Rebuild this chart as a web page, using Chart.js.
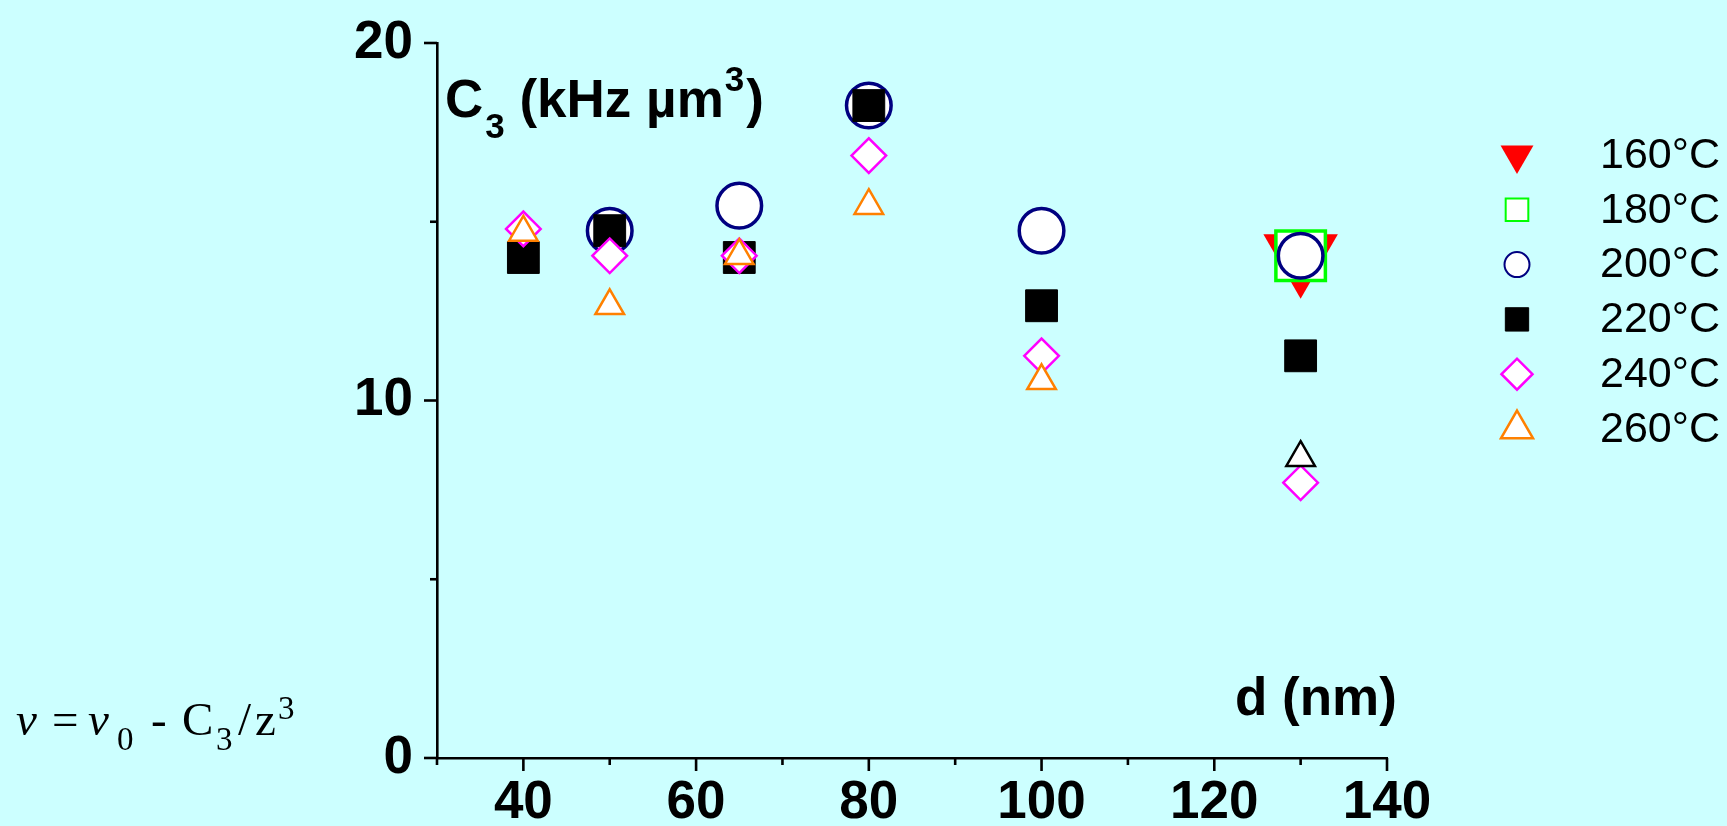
<!DOCTYPE html>
<html lang="en">
<head>
  <meta charset="UTF-8">
  <title>C3 vs d</title>
  <script src="https://cdn.jsdelivr.net/npm/chart.js"></script>
  <style>
    body {
      margin: 0;
      padding: 0;
      background: #ccffff;
    }
    #wrap {
      width: 1727px;
      height: 826px;
    }
  </style>
</head>
<body>
  <div id="wrap">
    <canvas id="c3Chart" width="1727" height="826"></canvas>
  </div>

  <script>
    // film thickness d (nm)
    const distances = [40, 50, 65, 80, 100, 130];
    const temperatures = ['160°C', '180°C', '200°C', '220°C', '240°C', '260°C'];

    // C3 (kHz um^3) per annealing temperature, null = not measured
    const c3_160 = [null, null, null, null, null, 14.05];
    const c3_180 = [null, null, null, null, null, 14.05];
    const c3_200 = [null, 14.75, 15.45, 18.25, 14.75, 14.05];
    const c3_220 = [14.0, 14.75, 14.0, 18.25, 12.65, 11.25];
    const c3_240 = [14.8, 14.05, 14.05, 16.85, 11.25, 7.7];
    const c3_260 = [14.7, 12.65, 14.05, 15.45, 10.55, 8.4];

    const yTickLabels = [0, 10, 20];
    const xTickLabels = [40, 60, 80, 100, 120, 140];

    const SANS = "'Liberation Sans', Arial, sans-serif";
    const SERIF = "'Liberation Serif', 'Times New Roman', serif";

    const toPoints = ys => distances
      .map((x, i) => ({ x: x, y: ys[i] }))
      .filter(p => p.y !== null);

    const datasets = [
      {
        label: temperatures[0], data: toPoints(c3_160), order: 5,
        pointStyle: 'triangle', pointRotation: 180, pointRadius: 43,
        backgroundColor: '#ff0000', borderColor: '#ff0000', borderWidth: 0,
        legendRadius: 19, legendBorder: 0
      },
      {
        label: temperatures[1], data: toPoints(c3_180), order: 4,
        pointStyle: 'rect', pointRadius: 35,
        backgroundColor: '#ffffff', borderColor: '#00ff00', borderWidth: 3.5,
        legendRadius: 16, legendBorder: 2
      },
      {
        label: temperatures[2], data: toPoints(c3_200), order: 3,
        pointStyle: 'circle', pointRadius: 22.3,
        backgroundColor: '#ffffff', borderColor: '#000080', borderWidth: 3.5,
        legendRadius: 12.5, legendBorder: 2
      },
      {
        label: temperatures[3], data: toPoints(c3_220), order: 2,
        pointStyle: 'rect', pointRadius: 22.5,
        backgroundColor: '#000000', borderColor: '#000000', borderWidth: 1,
        legendRadius: 16.5, legendBorder: 1
      },
      {
        label: temperatures[4], data: toPoints(c3_240), order: 1,
        pointStyle: 'rectRot', pointRadius: 17.3,
        backgroundColor: '#ffffff', borderColor: '#ff00ff', borderWidth: 2.5,
        legendRadius: 15.5, legendBorder: 2.5
      },
      {
        label: temperatures[5], data: toPoints(c3_260), order: 0,
        pointStyle: 'triangle', pointRadius: 16.5,
        backgroundColor: '#ffffff', borderColor: '#ff8000',
        pointBorderColor: ['#ff8000', '#ff8000', '#ff8000', '#ff8000', '#ff8000', '#000000'],
        borderWidth: 2.5,
        legendRadius: 18.5, legendBorder: 2.5
      }
    ];

    // outward tick marks, long on labelled values
    function drawTicks(ctx, scale, area, horizontal) {
      ctx.save();
      ctx.strokeStyle = '#000';
      ctx.lineWidth = 2.6;
      scale.ticks.forEach(t => {
        const len = t.label !== '' ? 13 : 7;
        const p = scale.getPixelForValue(t.value);
        ctx.beginPath();
        if (horizontal) {
          ctx.moveTo(p, area.bottom);
          ctx.lineTo(p, area.bottom + len);
        } else {
          ctx.moveTo(area.left, p);
          ctx.lineTo(area.left - len, p);
        }
        ctx.stroke();
      });
      ctx.restore();
    }

    // text pieces: [text, font, x, y]
    function drawPieces(ctx, pieces) {
      pieces.forEach(([text, font, x, y]) => {
        ctx.font = font;
        ctx.fillText(text, x, y);
      });
    }

    const decorations = {
      id: 'decorations',
      afterDraw(chart) {
        const ctx = chart.ctx;
        const area = chart.chartArea;
        drawTicks(ctx, chart.scales.x, area, true);
        drawTicks(ctx, chart.scales.y, area, false);

        ctx.save();
        ctx.fillStyle = '#000';
        ctx.textAlign = 'left';
        ctx.textBaseline = 'alphabetic';

        // axis titles inside the plot
        const big = 'bold 53px ' + SANS;
        const small = 'bold 35px ' + SANS;
        ctx.font = big;
        let x = 445;
        ctx.fillText('C', x, 117);
        x += ctx.measureText('C').width + 2;
        ctx.font = small;
        ctx.fillText('3', x, 138);
        x += ctx.measureText('3').width;
        ctx.font = big;
        ctx.fillText(' (kHz \u00b5m', x, 117);
        x += ctx.measureText(' (kHz \u00b5m').width + 1;
        ctx.font = small;
        ctx.fillText('3', x, 91);
        x += ctx.measureText('3').width + 2;
        ctx.font = big;
        ctx.fillText(')', x, 117);

        ctx.fillText('d (nm)', 1235, 715);

        // resonance shift formula
        const f = '47px ' + SERIF;
        const fi = 'italic 47px ' + SERIF;
        const fs = '33px ' + SERIF;
        drawPieces(ctx, [
          ['\u03bd', fi, 16, 735],
          ['=', f, 52, 735],
          ['\u03bd', fi, 88, 735],
          ['0', fs, 117, 750],
          ['-', f, 151, 735],
          ['C', f, 182, 735],
          ['3', fs, 216, 750],
          ['/', f, 238, 735],
          ['z', f, 255, 735],
          ['3', fs, 278, 719]
        ]);

        // legend
        chart.data.datasets.forEach((ds, i) => {
          const y = 155 + i * 54.8;
          ctx.fillStyle = ds.backgroundColor;
          ctx.strokeStyle = ds.borderColor;
          ctx.lineWidth = ds.legendBorder;
          Chart.helpers.drawPoint(ctx, {
            pointStyle: ds.pointStyle,
            rotation: ds.pointRotation || 0,
            radius: ds.legendRadius,
            borderWidth: ds.legendBorder
          }, 1517, y);
          ctx.fillStyle = '#000';
          ctx.font = '43px ' + SANS;
          ctx.textBaseline = 'middle';
          ctx.fillText(ds.label, 1600, y + 1);
          ctx.textBaseline = 'alphabetic';
        });
        ctx.restore();
      }
    };

    new Chart(document.getElementById('c3Chart'), {
      type: 'scatter',
      data: { datasets: datasets },
      options: {
        responsive: false,
        animation: false,
        events: [],
        clip: false,
        layout: { padding: { left: 0, right: 340, top: 39, bottom: 0 } },
        plugins: {
          legend: { display: false },
          tooltip: { enabled: false }
        },
        scales: {
          x: {
            type: 'linear',
            min: 30,
            max: 140,
            afterFit: s => {
              s.height = 68;
              s.paddingLeft = 0;
              s.paddingRight = 0;
            },
            grid: { display: true, drawOnChartArea: false, drawTicks: false },
            border: { display: true, color: '#000', width: 2.6 },
            ticks: {
              stepSize: 10,
              padding: 14,
              color: '#000',
              maxRotation: 0,
              autoSkip: false,
              font: { family: SANS, size: 53, weight: 'bold' },
              callback: v => xTickLabels.includes(v) ? String(v) : ''
            }
          },
          y: {
            type: 'linear',
            min: 0,
            max: 20,
            afterFit: s => {
              s.width = 437;
              s.paddingTop = 0;
              s.paddingBottom = 0;
            },
            grid: { display: true, drawOnChartArea: false, drawTicks: false },
            border: { display: true, color: '#000', width: 2.6 },
            ticks: {
              stepSize: 5,
              padding: 24,
              color: '#000',
              autoSkip: false,
              font: { family: SANS, size: 53, weight: 'bold' },
              callback: v => yTickLabels.includes(v) ? String(v) : ''
            }
          }
        }
      },
      plugins: [decorations]
    });
  </script>
</body>
</html>
